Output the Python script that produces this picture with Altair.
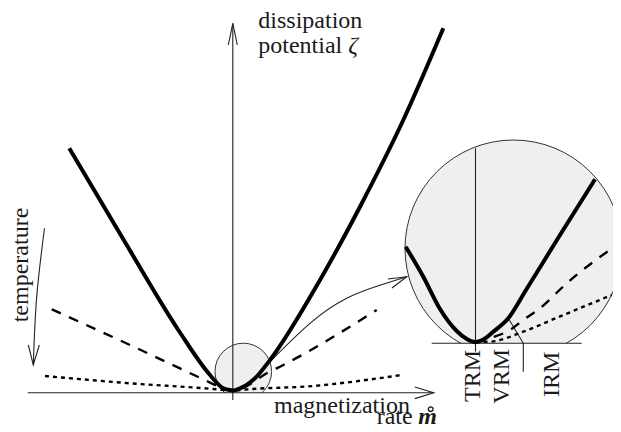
import math
import altair as alt
import pandas as pd

# Chart units: 1 unit = 1 px, origin at the crossing of the two main axes.
W, H = 605, 416
X_DOMAIN = [-224.8, 380.2]
Y_DOMAIN = [-31.2, 384.8]

# ---- main dissipation potentials ----
thick_x = [-163.5, -109.5, -54.5, -22.8, -9.5, -2.8, 0.0, 7.2, 13.9, 22.2, 37.2, 87.2, 127.2, 170.5, 210.5]
thick_y = [244.5, 153.5, 62.8, 17.8, 4.5, 2.8, 2.3, 4.5, 7.8, 14.5, 32.8, 112.8, 186.1, 272.8, 364.5]

dash_x = [-181.1, -102.8, -29.5, -12.0, 0.0, 12.0, 33.9, 50.5, 143.9]
dash_y = [83.5, 47.8, 13.5, 5.5, 2.5, 6.0, 19.5, 27.8, 82.8]

dot_x = [-187.8, -102.8, -16.1, 0.0, 7.2, 80.5, 168.9]
dot_y = [16.8, 9.5, 3.5, 2.0, 2.8, 6.8, 17.8]

# ---- magnified inset ----
in_thick_x = [172.9, 190.5, 207.2, 223.9, 233.2, 242.5, 252.2, 260.5, 275.5, 293.2, 327.2, 362.2]
in_thick_y = [146.1, 116.1, 83.8, 61.8, 54.3, 50.8, 54.3, 61.1, 74.5, 102.8, 157.8, 213.5]

in_dash_x = [242.7, 257.2, 277.2, 290.5, 307.2, 333.9, 388.7]
in_dash_y = [50.8, 54.8, 62.8, 72.8, 84.5, 109.5, 151.1]

in_dot_x = [242.7, 257.2, 290.5, 323.9, 378.9]
in_dot_y = [50.8, 51.1, 61.1, 75.0, 97.8]

# circles: small (magnifier) and large (inset)
small_circ = {"x": 10.5, "y": 21.3, "r": 28.3}
big_circ = {"x": 280.7, "y": 144.3, "r": 108.5}
# white masks below the chord of each circle
mask_x = [-22.0, 160.0]
mask_x2 = [42.0, 395.0]
mask_y = [-10.0, 30.0]
mask_y2 = [0.0, 49.5]

# thin straight segments: (segment id, x, y)
thin_seg = ["vax", "vax", "vh", "vh", "vh", "hax", "hax", "hh", "hh", "hh",
            "th", "th", "th", "zh", "zh", "zh", "trm", "trm", "base", "base",
            "irm", "irm", "irm"]
thin_x = [0.0, 0.0, -4.5, 0.0, 4.5, -205.1, 200.9, 182.0, 200.9, 182.0,
          -204.5, -199.5, -193.5, 155.2, 173.9, 159.2, 242.7, 242.7, 198.9, 348.9,
          275.5, 290.5, 290.5]
thin_y = [-7.2, 369.5, 347.8, 369.5, 347.8, 0.0, 0.0, 5.8, 0.0, -5.8,
          47.8, 27.8, 47.8, 113.8, 116.1, 104.8, 244.5, 41.1, 49.5, 49.5,
          74.5, 49.5, 21.1]

# thin curved arrows: temperature arrow and magnifier arrow
curve_seg = ["temp", "temp", "temp", "zoom", "zoom", "zoom", "zoom", "zoom"]
curve_x = [-188.3, -196.1, -199.5, 37.2, 77.2, 113.9, 147.0, 173.9]
curve_y = [164.5, 96.1, 27.8, 31.1, 69.5, 94.5, 107.5, 116.1]

# texts
txt = ["dissipation", "potential", "magnetization", "rate"]
txt_x = [25.5, 25.5, 41.2, 143.9]
txt_y = [364.5, 339.5, -19.9, -30.7]

rot_txt = ["TRM", "VRM", "IRM"]
rot_x = [247.2, 275.7, 326.2]
rot_y = [42.8, 43.8, 41.1]

temp_txt = ["temperature"]
temp_x = [-204.8]
temp_y = [127.8]

FONT = "Liberation Serif"
INK = "#1a1a1a"

X = alt.X("x:Q", scale=alt.Scale(domain=X_DOMAIN, nice=False, zero=False), axis=None)
Y = alt.Y("y:Q", scale=alt.Scale(domain=Y_DOMAIN, nice=False, zero=False), axis=None)


def seq(xs, ys, seg=None):
    d = pd.DataFrame({"x": xs, "y": ys})
    d["o"] = range(len(d))
    d["seg"] = seg if seg is not None else "a"
    return d


def lines(df, **mark):
    return alt.Chart(df).mark_line(**mark).encode(x=X, y=Y, detail="seg:N", order="o:Q")


def circle(c):
    return alt.Chart(pd.DataFrame({"x": [c["x"]], "y": [c["y"]]})).mark_arc(
        theta=0, theta2=2 * math.pi, outerRadius=c["r"], innerRadius=0,
        fill="#efefef", stroke="#333333", strokeWidth=1
    ).encode(x=X, y=Y)


masks = alt.Chart(pd.DataFrame({"x": mask_x, "x2": mask_x2, "y": mask_y, "y2": mask_y2})).mark_rect(
    fill="white"
).encode(x=X, x2="x2:Q", y=Y, y2="y2:Q")

thin = lines(seq(thin_x, thin_y, thin_seg), color="#222222", strokeWidth=1.1)
curved = lines(seq(curve_x, curve_y, curve_seg), color="#222222", strokeWidth=1.1, interpolate="natural")

dotted = lines(seq(dot_x, dot_y), color="black", strokeWidth=2.4, strokeDash=[4, 4], interpolate="monotone")
dashed = lines(seq(dash_x, dash_y), color="black", strokeWidth=2.4, strokeDash=[10, 9], interpolate="monotone")
thick = lines(seq(thick_x, thick_y), color="black", strokeWidth=4, interpolate="monotone")

in_dotted = lines(seq(in_dot_x, in_dot_y), color="black", strokeWidth=2.4, strokeDash=[4, 4], interpolate="monotone")
in_dashed = lines(seq(in_dash_x, in_dash_y), color="black", strokeWidth=2.4, strokeDash=[10, 9], interpolate="monotone")
in_thick = lines(seq(in_thick_x, in_thick_y), color="black", strokeWidth=4, interpolate="monotone")

texts = alt.Chart(pd.DataFrame({"x": txt_x, "y": txt_y, "t": txt})).mark_text(
    font=FONT, fontSize=24, align="left", baseline="alphabetic", color=INK
).encode(x=X, y=Y, text="t:N")

zeta = alt.Chart(pd.DataFrame({"x": [115.5], "y": [339.5], "t": ["ζ"]})).mark_text(
    font=FONT, fontSize=24, fontStyle="italic", align="left", baseline="alphabetic", color=INK
).encode(x=X, y=Y, text="t:N")

mdot = alt.Chart(pd.DataFrame({"x": [185.5], "y": [-30.7], "t": ["m"]})).mark_text(
    font=FONT, fontSize=24, fontStyle="italic", fontWeight="bold", align="left", baseline="alphabetic", color=INK
).encode(x=X, y=Y, text="t:N")

ring = alt.Chart(pd.DataFrame({"x": [197.9], "y": [-16.4]})).mark_point(
    shape="circle", filled=False, size=22, stroke=INK, strokeWidth=1.4, opacity=1
).encode(x=X, y=Y)

rot = alt.Chart(pd.DataFrame({"x": rot_x, "y": rot_y, "t": rot_txt})).mark_text(
    font=FONT, fontSize=24, angle=270, align="right", baseline="alphabetic", color=INK
).encode(x=X, y=Y, text="t:N")

temp = alt.Chart(pd.DataFrame({"x": temp_x, "y": temp_y, "t": temp_txt})).mark_text(
    font=FONT, fontSize=24, angle=270, align="center", baseline="alphabetic", color=INK
).encode(x=X, y=Y, text="t:N")

chart = alt.layer(
    circle(small_circ), circle(big_circ), masks, thin, curved, dotted, dashed, in_dotted, in_dashed,
    thick, in_thick, texts, zeta, mdot, ring, rot, temp
).properties(
    width=W, height=H, padding=0, autosize=alt.AutoSizeParams(type="none"), background="white"
).configure_view(stroke=None)

chart.save("out.html", embed_options={"renderer": "svg", "actions": False})
